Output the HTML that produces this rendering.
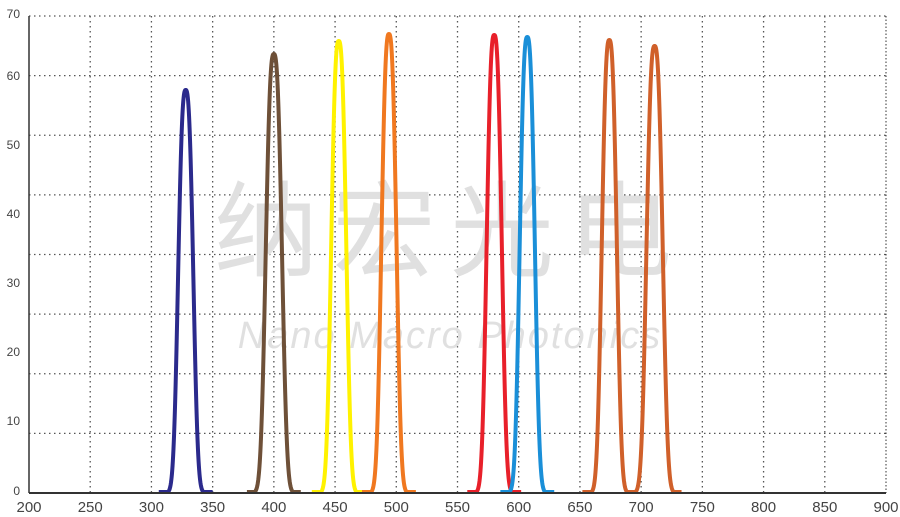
<!DOCTYPE html>
<html><head><meta charset="utf-8"><style>
html,body{margin:0;padding:0;background:#fff;}
svg{display:block;}
text{font-family:"Liberation Sans","Noto Sans CJK SC",sans-serif;}
</style></head><body>
<svg id="s" width="900" height="517" xmlns="http://www.w3.org/2000/svg">
<rect width="900" height="517" fill="#fff"/>
<g id="grid" stroke="#555" stroke-width="1.3" stroke-dasharray="1.5,3.5"></g>
<text x="450" y="268" text-anchor="middle" font-size="104" fill="#e0e0e0" font-family="'Noto Sans CJK SC',sans-serif" letter-spacing="14">纳宏光电</text>
<text x="450" y="348" text-anchor="middle" font-size="38" font-style="italic" fill="#e0e0e0" letter-spacing="2">Nano Macro Photonics</text>
<g id="curves" fill="none" stroke-width="4" stroke-linejoin="round"></g>
<line x1="29" y1="493" x2="886" y2="493" stroke="#333" stroke-width="2"/>
<line x1="29" y1="16" x2="29" y2="493" stroke="#333" stroke-width="1.5"/>
<line x1="886" y1="16" x2="886" y2="493" stroke="#333" stroke-width="1" stroke-dasharray="1.5,2"/>
<g id="labels" font-size="13" fill="#444"></g>
</svg>
<script>
var ns="http://www.w3.org/2000/svg";
function el(p,t,a,txt){var e=document.createElementNS(ns,t);for(var k in a)e.setAttribute(k,a[k]);if(txt!==undefined)e.textContent=txt;document.getElementById(p).appendChild(e);}
function X(nm){return 29+(nm-200)*857/700;}
for(var i=1;i<14;i++){var x=X(200+50*i);el("grid","line",{x1:x,y1:16,x2:x,y2:493});}
for(var j=0;j<8;j++){var y=16+j*477/8;el("grid","line",{x1:29,y1:y,x2:886,y2:y});}
for(var i=0;i<=14;i++){var v=200+50*i;el("labels","text",{x:X(v),y:512,"text-anchor":"middle","font-size":"15"},v);}
var ly=[491,421,352,283,214,145,76,14];
for(var j=0;j<8;j++){el("labels","text",{x:20,y:ly[j]+4,"text-anchor":"end","font-size":"12"},j*10);}
var c=[[328,90,"#2b2a8c",6.5],[400,54,"#6e5038",7],[453,41,"#fff200",6.5],[494,34,"#f07820",6.5],[580,35,"#e8202a",6.5],[607,37,"#1a8fd8",6.5],[674,40,"#d0602a",6.5],[711,46,"#d0602a",7]];
c.forEach(function(p){var d="",pk=493-p[1];for(var nm=p[0]-22;nm<=p[0]+22;nm+=0.25){var t=(nm-p[0])/p[3];var v=pk*Math.exp(-Math.LN2*Math.pow(Math.abs(t),2.7));var y=Math.min(492,493-v);d+=(d?"L":"M")+X(nm).toFixed(2)+","+y.toFixed(2);}el("curves","path",{d:d,stroke:p[2]});});
</script>
</body></html>
